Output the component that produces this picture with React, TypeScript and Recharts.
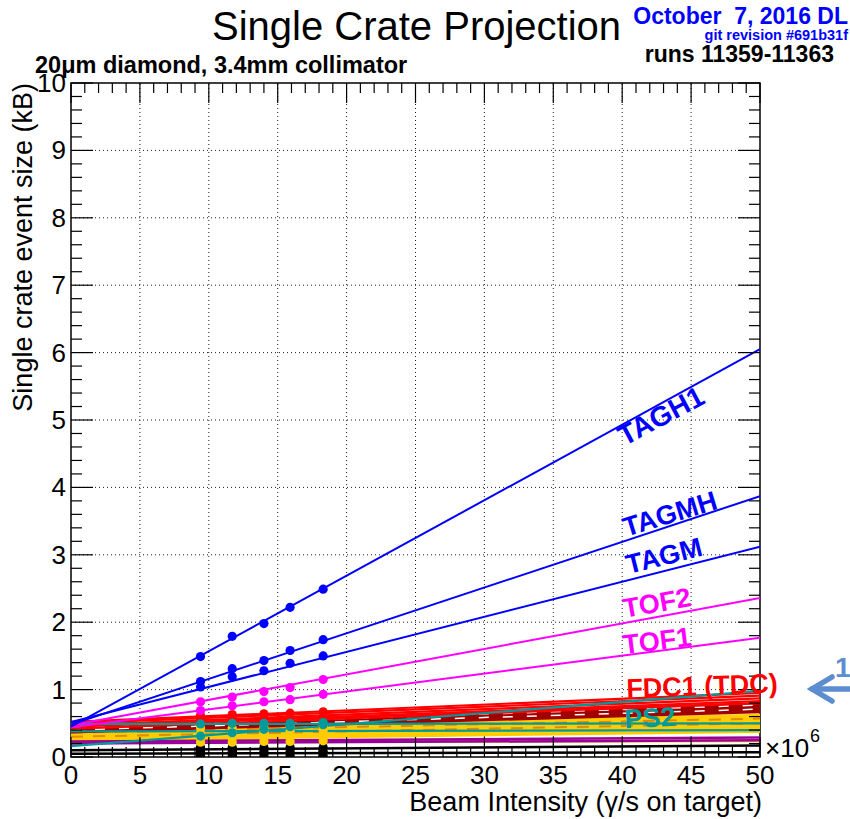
import React from 'react';
import { ComposedChart, Line, Scatter, XAxis, YAxis, ReferenceLine, ReferenceArea } from 'recharts';

// ---------- data ----------
const beamX = [9.4, 11.7, 14.0, 15.9, 18.3];   // measured beam intensities (x10^6)
const fitX = [0, 50];                          // fit lines are drawn over the full range

const tagh1Fit = [0.45, 6.05];
const tagh1Pts = [1.49, 1.79, 1.98, 2.22, 2.49];
const tagmhFit = [0.48, 3.87];
const tagmhPts = [1.12, 1.31, 1.43, 1.58, 1.74];
const tagmFit = [0.52, 3.12];
const tagmPts = [1.04, 1.19, 1.28, 1.39, 1.5];
const tof2Fit = [0.47, 2.36];
const tof2Pts = [0.82, 0.89, 0.97, 1.03, 1.15];
const tof1Fit = [0.44, 1.77];
const tof1Pts = [0.69, 0.76, 0.82, 0.85, 0.93];

const redFits = [[0.52, 0.95], [0.5, 0.91], [0.47, 0.87], [0.45, 0.83], [0.42, 0.8]];
const redPts = [[0.62, 0.63, 0.64, 0.65, 0.67], [0.55, 0.56, 0.57, 0.58, 0.6]];
const darkRedFits = [[0.46, 0.79], [0.43, 0.76], [0.41, 0.73], [0.39, 0.7], [0.37, 0.67]];
const darkRedDashedFits = [[0.44, 0.77], [0.4, 0.71]];
const tealFits = [[0.16, 0.98], [0.49, 0.5], [0.38, 0.4]];
const tealPts = [[0.31, 0.36, 0.41, 0.45, 0.48], [0.49, 0.5, 0.5, 0.5, 0.51]];
const goldFits = [[0.4, 0.62], [0.38, 0.59], [0.35, 0.55], [0.33, 0.52], [0.31, 0.49], [0.29, 0.46], [0.27, 0.43], [0.25, 0.38], [0.22, 0.24]];
const orangeDashedFits = [[0.36, 0.57], [0.3, 0.5]];
const goldPts = [[0.43, 0.43, 0.44, 0.45, 0.46], [0.35, 0.36, 0.37, 0.38, 0.39], [0.28, 0.28, 0.29, 0.29, 0.3], [0.22, 0.22, 0.23, 0.23, 0.24]];
const purpleFits = [[0.23, 0.29], [0.2, 0.25]];
const blackFits = [[0.1, 0.17], [0.05, 0.07]];
const blackPts = [[0.14, 0.14, 0.14, 0.14, 0.14], [0.08, 0.08, 0.08, 0.08, 0.08], [0.02, 0.02, 0.02, 0.02, 0.02]];

const xMajorTicks = [0, 5, 10, 15, 20, 25, 30, 35, 40, 45, 50];
const yMajorTicks = [0, 1, 2, 3, 4, 5, 6, 7, 8, 9, 10];
const xTicks = xMajorTicks.flatMap((v) => (v < 50 ? [v, v + 1, v + 2, v + 3, v + 4] : [v]));
const yTicks = yMajorTicks.flatMap((v) => (v < 10 ? [v, v + 0.2, v + 0.4, v + 0.6, v + 0.8] : [v]));

// ---------- styling / layout ----------
const FONT = 'Liberation Sans, Arial, Helvetica, sans-serif';
const PL = 71, PR = 760, PT = 83, PB = 757;
const BLUE = '#0000ff', MAGENTA = '#ff00ff', RED = '#ff0000', DARKRED = '#a00000';
const TEAL = '#009a9a', GOLD = '#ffcc00', ORANGE = '#e08a00', PURPLE = '#990099';

const toLine = (fit: number[]) => fitX.map((x, i) => ({ x, y: fit[i] }));
const toPts = (pts: number[]) => beamX.map((x, i) => ({ x, y: pts[i] }));
const isMajor = (v: number, step: number) => Math.abs(v / step - Math.round(v / step)) < 1e-6;

const YTick = (props: any) => {
  const { y, payload } = props;
  const v = payload.value;
  const major = isMajor(v, 1);
  const len = major ? 22 : 11;
  return (
    <g>
      <line x1={PL} x2={PL + len} y1={y} y2={y} stroke="#000" strokeWidth={1.2} />
      <line x1={PR - len} x2={PR} y1={y} y2={y} stroke="#000" strokeWidth={1.2} />
      {major && (
        <text x={PL - 5} y={y} dy={9} textAnchor="end" fontSize={26} fontFamily={FONT} fill="#000">
          {Math.round(v)}
        </text>
      )}
    </g>
  );
};

const XTick = (props: any) => {
  const { x, payload } = props;
  const v = payload.value;
  const major = isMajor(v, 5);
  const len = major ? 20 : 10;
  return (
    <g>
      <line x1={x} x2={x} y1={PB} y2={PB - len} stroke="#000" strokeWidth={1.2} />
      <line x1={x} x2={x} y1={PT} y2={PT + len} stroke="#000" strokeWidth={1.2} />
      {major && (
        <text x={x} y={PB + 27} textAnchor="middle" fontSize={26} fontFamily={FONT} fill="#000">
          {Math.round(v)}
        </text>
      )}
    </g>
  );
};

const dotShape = (color: string) => (p: any) => <circle cx={p.cx} cy={p.cy} r={4.6} fill={color} />;

const fitLine = (key: string, fit: number[], color: string, width = 2, dash?: string) => (
  <Line
    key={key}
    data={toLine(fit)}
    dataKey="y"
    type="linear"
    stroke={color}
    strokeWidth={width}
    strokeDasharray={dash}
    dot={false}
    activeDot={false}
    isAnimationActive={false}
  />
);

const ptSeries = (key: string, pts: number[], color: string) => (
  <Scatter key={key} data={toPts(pts)} dataKey="y" fill={color} shape={dotShape(color)} isAnimationActive={false} />
);

const Label = ({ x, y, rot, color, size = 27, children }: any) => (
  <text
    transform={`translate(${x},${y}) rotate(${rot})`}
    textAnchor="middle"
    dominantBaseline="central"
    fontFamily={FONT}
    fontWeight="bold"
    fontSize={size}
    fill={color}
  >
    {children}
  </text>
);

export default function App() {
  return (
    <div style={{ position: 'absolute', left: 0, top: 0, width: 850, height: 819, background: '#fff' }}>
      <ComposedChart width={850} height={819} margin={{ top: PT, right: 850 - PR, bottom: 819 - PB - 40, left: PL - 50 }}>
        <XAxis
          type="number"
          dataKey="x"
          domain={[0, 50]}
          ticks={xTicks}
          interval={0}
          allowDataOverflow
          height={40}
          axisLine={false}
          tickLine={false}
          tick={(p: any) => <XTick {...p} />}
        />
        <YAxis
          type="number"
          dataKey="y"
          domain={[0, 10]}
          ticks={yTicks}
          interval={0}
          allowDataOverflow
          width={50}
          axisLine={false}
          tickLine={false}
          tick={(p: any) => <YTick {...p} />}
        />
        {xMajorTicks.slice(1, -1).map((v) => (
          <ReferenceLine key={'gx' + v} x={v} stroke="#222" strokeDasharray="1 3" strokeWidth={1} />
        ))}
        {yMajorTicks.slice(1, -1).map((v) => (
          <ReferenceLine key={'gy' + v} y={v} stroke="#222" strokeDasharray="1 3" strokeWidth={1} />
        ))}

        {goldFits.map((f, i) => fitLine('gold' + i, f, GOLD, 3))}
        {orangeDashedFits.map((f, i) => fitLine('or' + i, f, ORANGE, 2, '12 10'))}
        {purpleFits.map((f, i) => fitLine('pu' + i, f, PURPLE, 2.5))}
        {blackFits.map((f, i) => fitLine('bk' + i, f, '#000', 2.5))}
        {darkRedFits.map((f, i) => fitLine('dr' + i, f, DARKRED, 2.8))}
        {darkRedDashedFits.map((f, i) => fitLine('drd' + i, f, '#ffffff', 1.5, '10 14'))}
        {redFits.map((f, i) => fitLine('rd' + i, f, RED, 2.2))}
        {tealFits.map((f, i) => fitLine('tl' + i, f, TEAL, 2.2))}
        {fitLine('tof1', tof1Fit, MAGENTA)}
        {fitLine('tof2', tof2Fit, MAGENTA)}
        {fitLine('tagm', tagmFit, BLUE)}
        {fitLine('tagmh', tagmhFit, BLUE)}
        {fitLine('tagh1', tagh1Fit, BLUE)}

        {blackPts.map((p, i) => ptSeries('bkp' + i, p, '#000'))}
        {goldPts.map((p, i) => ptSeries('gp' + i, p, GOLD))}
        {redPts.map((p, i) => ptSeries('rp' + i, p, RED))}
        {tealPts.map((p, i) => ptSeries('tp' + i, p, TEAL))}
        {ptSeries('tof1p', tof1Pts, MAGENTA)}
        {ptSeries('tof2p', tof2Pts, MAGENTA)}
        {ptSeries('tagmp', tagmPts, BLUE)}
        {ptSeries('tagmhp', tagmhPts, BLUE)}
        {ptSeries('tagh1p', tagh1Pts, BLUE)}

        <ReferenceArea x1={0} x2={50} y1={0} y2={10} fill="none" fillOpacity={0} stroke="#000" strokeWidth={1.5} />
      </ComposedChart>

      <svg
        width={850}
        height={819}
        style={{ position: 'absolute', left: 0, top: 0, pointerEvents: 'none' }}
      >
        <text x={212} y={40} fontFamily={FONT} fontSize={40} fill="#000">Single Crate Projection</text>
        <text x={848} y={24} textAnchor="end" fontFamily={FONT} fontWeight="bold" fontSize={23} fill={BLUE} style={{ whiteSpace: 'pre' }}>
          October  7, 2016 DL
        </text>
        <text x={848} y={40} textAnchor="end" fontFamily={FONT} fontWeight="bold" fontSize={14.5} fill={BLUE}>
          git revision #691b31f
        </text>
        <text x={834} y={62} textAnchor="end" fontFamily={FONT} fontWeight="bold" fontSize={23} fill="#000">
          runs 11359-11363
        </text>
        <text x={35} y={73} fontFamily={FONT} fontWeight="bold" fontSize={23.5} fill="#000">
          20μm diamond, 3.4mm collimator
        </text>

        <text transform={`translate(32,${PT}) rotate(-90)`} textAnchor="end" fontFamily={FONT} fontSize={27} fill="#000">
          Single crate event size (kB)
        </text>
        <text x={762} y={811} textAnchor="end" fontFamily={FONT} fontSize={27} fill="#000">
          Beam Intensity (γ/s on target)
        </text>
        <text x={765} y={757} fontFamily={FONT} fontSize={26} fill="#000">×10</text>
        <text x={810} y={742} fontFamily={FONT} fontSize={18} fill="#000">6</text>

        <Label x={661} y={416} rot={-28} color={BLUE} size={28}>TAGH1</Label>
        <Label x={670} y={514} rot={-17} color={BLUE} size={27}>TAGMH</Label>
        <Label x={664} y={556} rot={-14} color={BLUE} size={27}>TAGM</Label>
        <Label x={657} y={603} rot={-10} color={MAGENTA} size={27}>TOF2</Label>
        <Label x={657} y={641} rot={-7} color={MAGENTA} size={27}>TOF1</Label>
        <Label x={702} y={686} rot={-2} color={RED} size={27}>FDC1 (TDC)</Label>
        <Label x={650} y={718} rot={-3} color={TEAL} size={27}>PS2</Label>

        <g stroke="#5b8dd0" strokeWidth={5.5} strokeLinecap="round" fill="none">
          <line x1={812} y1={689} x2={852} y2={689} />
          <polyline points="832,677 812,689 832,701" />
        </g>
        <text x={835} y={677} fontFamily={FONT} fontWeight="bold" fontSize={28} fill="#5b8dd0">1</text>
      </svg>
    </div>
  );
}
